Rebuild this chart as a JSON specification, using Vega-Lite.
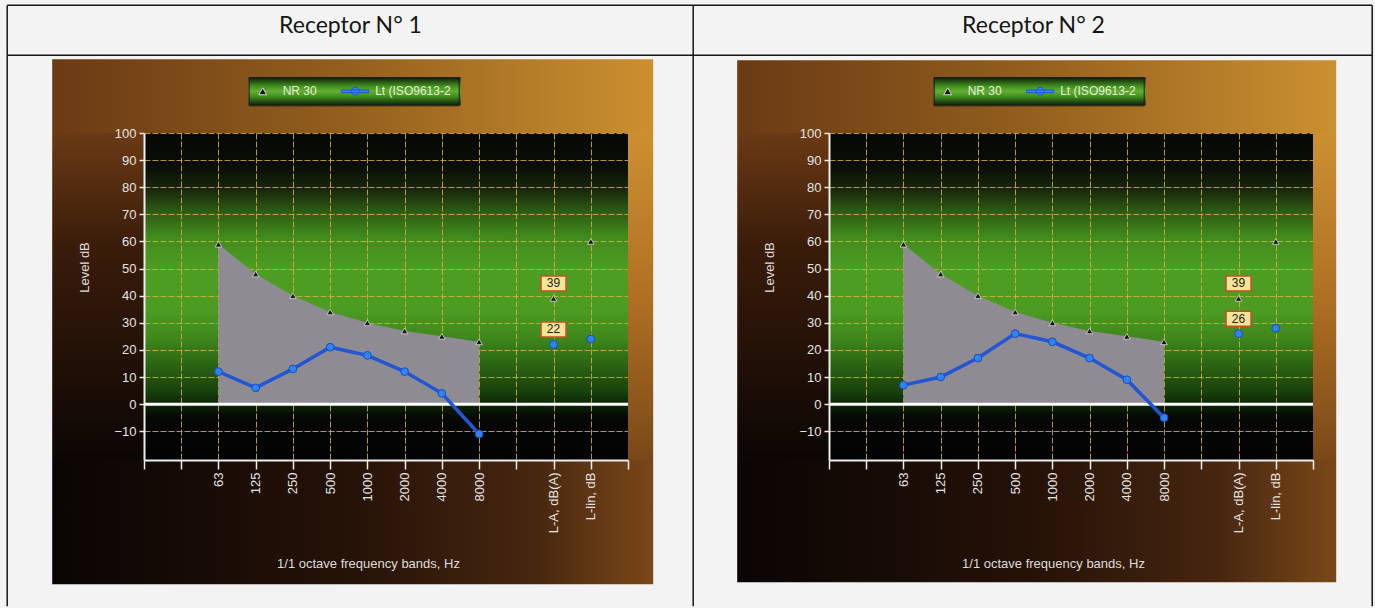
{
"$schema": "https://vega.github.io/schema/vega-lite/v6.json",
"background": "#f3f3f3",
"padding": 0,
"autosize": {"type": "pad"},
"config": {"view": {"stroke": null}, "font": "Liberation Sans"},
"datasets": {
"r1": [
{"band": "63", "nr": 59, "lt": 12},
{"band": "125", "nr": 48, "lt": 6},
{"band": "250", "nr": 40, "lt": 13},
{"band": "500", "nr": 34, "lt": 21},
{"band": "1000", "nr": 30, "lt": 18},
{"band": "2000", "nr": 27, "lt": 12},
{"band": "4000", "nr": 25, "lt": 4},
{"band": "8000", "nr": 23, "lt": -11},
{"band": "L-A, dB(A)", "nr": 39, "lt": 22},
{"band": "L-lin, dB", "nr": 60, "lt": 24}
],
"r2": [
{"band": "63", "nr": 59, "lt": 7},
{"band": "125", "nr": 48, "lt": 10},
{"band": "250", "nr": 40, "lt": 17},
{"band": "500", "nr": 34, "lt": 26},
{"band": "1000", "nr": 30, "lt": 23},
{"band": "2000", "nr": 27, "lt": 17},
{"band": "4000", "nr": 25, "lt": 9},
{"band": "8000", "nr": 23, "lt": -5},
{"band": "L-A, dB(A)", "nr": 39, "lt": 26},
{"band": "L-lin, dB", "nr": 60, "lt": 28}
]
},
"spacing": 201,
"bounds": "flush",
"resolve": {"scale": {"shape": "independent", "fill": "independent", "stroke": "independent"}, "legend": {"shape": "independent", "fill": "independent", "stroke": "independent"}},
"hconcat": [
{
"width": 484, "height": 327,
"view": {"stroke": null, "fill": {"gradient": "linear", "x1": 0, "y1": 0, "x2": 0, "y2": 1, "stops": [{"offset": 0, "color": "#070806"}, {"offset": 0.1, "color": "#0a0e07"}, {"offset": 0.17, "color": "#17260c"}, {"offset": 0.235, "color": "#2d5713"}, {"offset": 0.315, "color": "#408a1c"}, {"offset": 0.42, "color": "#4e9e24"}, {"offset": 0.54, "color": "#4c9c22"}, {"offset": 0.625, "color": "#3f881c"}, {"offset": 0.705, "color": "#2c6614"}, {"offset": 0.79, "color": "#18420c"}, {"offset": 0.83, "color": "#0d2407"}, {"offset": 0.87, "color": "#050804"}, {"offset": 1, "color": "#020202"}]}},
"data": {"name": "r1"},
"transform": [{"calculate": "indexof(['','','63','125','250','500','1000','2000','4000','8000','','L-A, dB(A)','L-lin, dB',''], datum.band)", "as": "pos"}],
"resolve": {"axis": {"x": "independent", "y": "independent"}},
"layer": [
{"data": {"values": [{}]}, "mark": {"type": "rect", "opacity": 0},
 "encoding": {"x": {"datum": -3.8624, "type": "quantitative", "scale": {"domain": [0, 13], "nice": false, "zero": false}, "axis": null}, "x2": {"datum": 33.069},
  "y": {"datum": 148.94, "type": "quantitative", "scale": {"domain": [-20.6, 100], "nice": false, "zero": false}, "axis": null}, "y2": {"datum": -75.3}}},
{"data": {"values": [{}]}, "mark": {"type": "rect", "fill": {"gradient": "linear", "x1": 0, "y1": 0, "x2": 1, "y2": 0, "stops": [{"offset": 0, "color": "#6a3a14"}, {"offset": 0.5, "color": "#94601e"}, {"offset": 1, "color": "#cc9030"}]}},
 "encoding": {"x": {"datum": -2.4657, "type": "quantitative", "scale": {"domain": [0, 13], "nice": false, "zero": false}, "axis": null}, "x2": {"datum": 13.6767},
  "y": {"datum": 100, "type": "quantitative", "scale": {"domain": [-20.6, 100], "nice": false, "zero": false}, "axis": null}, "y2": {"datum": 127.18}}},
{"data": {"values": [{}]}, "mark": {"type": "rect", "fill": {"gradient": "linear", "x1": 0, "y1": 0, "x2": 1, "y2": 0, "stops": [{"offset": 0, "color": "#0a0504"}, {"offset": 0.5, "color": "#261207"}, {"offset": 0.8, "color": "#462610"}, {"offset": 1, "color": "#7a4818"}]}},
 "encoding": {"x": {"datum": -2.4657, "type": "quantitative", "scale": {"domain": [0, 13], "nice": false, "zero": false}, "axis": null}, "x2": {"datum": 13.6767},
  "y": {"datum": -66.45, "type": "quantitative", "scale": {"domain": [-20.6, 100], "nice": false, "zero": false}, "axis": null}, "y2": {"datum": -20.6}}},
{"data": {"values": [{}]}, "mark": {"type": "rect", "fill": {"gradient": "linear", "x1": 0, "y1": 0, "x2": 0, "y2": 1, "stops": [{"offset": 0, "color": "#6a3a14"}, {"offset": 0.35, "color": "#3a1c0a"}, {"offset": 1, "color": "#0c0604"}]}},
 "encoding": {"x": {"datum": -2.4657, "type": "quantitative", "scale": {"domain": [0, 13], "nice": false, "zero": false}, "axis": null}, "x2": {"datum": 0},
  "y": {"datum": -20.6, "type": "quantitative", "scale": {"domain": [-20.6, 100], "nice": false, "zero": false}, "axis": null}, "y2": {"datum": 100}}},
{"data": {"values": [{}]}, "mark": {"type": "rect", "fill": {"gradient": "linear", "x1": 0, "y1": 0, "x2": 0, "y2": 1, "stops": [{"offset": 0, "color": "#cc9030"}, {"offset": 0.5, "color": "#b07024"}, {"offset": 1, "color": "#7a4818"}]}},
 "encoding": {"x": {"datum": 13, "type": "quantitative", "scale": {"domain": [0, 13], "nice": false, "zero": false}, "axis": null}, "x2": {"datum": 13.6767},
  "y": {"datum": -20.6, "type": "quantitative", "scale": {"domain": [-20.6, 100], "nice": false, "zero": false}, "axis": null}, "y2": {"datum": 100}}},
{"data": {"values": [{}]}, "mark": {"type": "rule", "stroke": "#151515", "strokeWidth": 1.5},
 "encoding": {"x": {"datum": -3.6744, "type": "quantitative", "scale": {"domain": [0, 13], "nice": false, "zero": false}, "axis": null},
  "y": {"datum": 147.1, "type": "quantitative", "scale": {"domain": [-20.6, 100], "nice": false, "zero": false}, "axis": null}, "y2": {"datum": -74.56}}},
{"data": {"values": [{}]}, "mark": {"type": "rule", "stroke": "#151515", "strokeWidth": 1.5},
 "encoding": {"x": {"datum": 14.7514, "type": "quantitative", "scale": {"domain": [0, 13], "nice": false, "zero": false}, "axis": null},
  "y": {"datum": 147.1, "type": "quantitative", "scale": {"domain": [-20.6, 100], "nice": false, "zero": false}, "axis": null}, "y2": {"datum": -74.56}}},
{"data": {"values": [{}]}, "mark": {"type": "rule", "stroke": "#151515", "strokeWidth": 1.5},
 "encoding": {"x": {"datum": -3.6744, "type": "quantitative", "scale": {"domain": [0, 13], "nice": false, "zero": false}, "axis": null}, "x2": {"datum": 14.7514},
  "y": {"datum": 147.1, "type": "quantitative", "scale": {"domain": [-20.6, 100], "nice": false, "zero": false}, "axis": null}}},
{"data": {"values": [{}]}, "mark": {"type": "rule", "stroke": "#151515", "strokeWidth": 1.5},
 "encoding": {"x": {"datum": -3.6744, "type": "quantitative", "scale": {"domain": [0, 13], "nice": false, "zero": false}, "axis": null}, "x2": {"datum": 14.7514},
  "y": {"datum": 128.66, "type": "quantitative", "scale": {"domain": [-20.6, 100], "nice": false, "zero": false}, "axis": null}}},
{"transform": [{"filter": "datum.pos <= 9"}], "mark": {"type": "area", "fill": "#8e8b93", "opacity": 1},
 "encoding": {"x": {"field": "pos", "type": "quantitative", "scale": {"domain": [0, 13], "nice": false, "zero": false},
   "axis": {"orient": "bottom", "values": [0,1,2,3,4,5,6,7,8,9,10,11,12,13], "grid": true, "gridColor": "#d6ae44", "gridOpacity": 0.85, "gridWidth": 1, "gridDash": [6, 2], "labels": false, "ticks": false, "domain": false, "title": null, "zindex": 0}},
  "y": {"field": "nr", "type": "quantitative", "scale": {"domain": [-20.6, 100], "nice": false, "zero": false},
   "axis": {"orient": "left", "values": [-10,0,10,20,30,40,50,60,70,80,90,100], "grid": true, "gridColor": "#d6ae44", "gridOpacity": 0.85, "gridWidth": 1, "gridDash": [6, 2], "labels": false, "ticks": false, "domain": false, "title": null, "zindex": 0}},
  "y2": {"datum": 0}}},
{"data": {"values": [{}]}, "mark": {"type": "rule", "stroke": "#ffffff", "strokeWidth": 3},
 "encoding": {"x": {"datum": 0, "type": "quantitative", "scale": {"domain": [0, 13], "nice": false, "zero": false}, "axis": null}, "x2": {"datum": 13},
  "y": {"datum": 0, "type": "quantitative", "scale": {"domain": [-20.6, 100], "nice": false, "zero": false}, "axis": null}}},
{"transform": [{"filter": "datum.pos <= 9"}], "mark": {"type": "line", "stroke": "#2356d4", "strokeWidth": 3.5},
 "encoding": {"x": {"field": "pos", "type": "quantitative", "scale": {"domain": [0, 13], "nice": false, "zero": false}, "axis": null},
  "y": {"field": "lt", "type": "quantitative", "scale": {"domain": [-20.6, 100], "nice": false, "zero": false}, "axis": null}}},
{"mark": {"type": "point", "shape": "triangle-up", "filled": true, "fill": "#161616", "stroke": "#dcdcdc", "strokeWidth": 0.8, "size": 44, "opacity": 1},
 "encoding": {"x": {"field": "pos", "type": "quantitative", "scale": {"domain": [0, 13], "nice": false, "zero": false},
   "axis": {"orient": "bottom", "values": [0,1,2,3,4,5,6,7,8,9,10,11,12,13], "grid": false, "labelExpr": "['','','63','125','250','500','1000','2000','4000','8000','','L-A, dB(A)','L-lin, dB',''][datum.value]", "labelAngle": -90, "labelColor": "#e4e4e4", "labelFont": "Liberation Sans", "labelFontSize": 13, "labelPadding": 3, "labelOverlap": false, "labelFlush": false, "labelBound": false, "tickColor": "#eeeeee", "tickSize": 9, "tickWidth": 1.5, "domainColor": "#eeeeee", "domainWidth": 2, "title": "1/1 octave frequency bands, Hz", "titleFont": "Liberation Sans", "titleFontSize": 13, "titleFontWeight": "normal", "titleColor": "#dddddd", "titleX": 224, "titleY": 103, "titleAlign": "center", "titleBaseline": "middle", "titleAngle": 0, "zindex": 1}},
  "y": {"field": "nr", "type": "quantitative", "scale": {"domain": [-20.6, 100], "nice": false, "zero": false},
   "axis": {"orient": "left", "values": [-10,0,10,20,30,40,50,60,70,80,90,100], "grid": false, "labelColor": "#e4e4e4", "labelFont": "Liberation Sans", "labelFontSize": 13, "labelPadding": 3, "labelFlush": false, "labelOverlap": false, "tickColor": "#eeeeee", "tickSize": 5, "tickWidth": 1.5, "domainColor": "#eeeeee", "domainWidth": 2, "title": "Level dB", "titleFont": "Liberation Sans", "titleFontSize": 13, "titleFontWeight": "normal", "titleColor": "#dddddd", "titleX": -60, "titleY": 134, "titleAngle": 270, "titleAlign": "center", "titleBaseline": "middle", "zindex": 1}}}},
{"mark": {"type": "point", "shape": "circle", "filled": true, "fill": "#2e84f0", "stroke": "#1b4cc0", "strokeWidth": 1, "size": 60, "opacity": 1},
 "encoding": {"x": {"field": "pos", "type": "quantitative", "scale": {"domain": [0, 13], "nice": false, "zero": false},
   "axis": {"orient": "top", "title": "Receptor N° 1", "labels": false, "ticks": false, "domain": false, "grid": false, "titleFont": "Lato", "titleFontSize": 23, "titleFontWeight": "normal", "titleColor": "#161616", "titleX": 206, "titleY": -108, "titleAlign": "center", "titleBaseline": "middle", "titleAngle": 0, "zindex": 1}},
  "y": {"field": "lt", "type": "quantitative", "scale": {"domain": [-20.6, 100], "nice": false, "zero": false}, "axis": null}}},
{"data": {"values": [{}]}, "mark": {"type": "rect", "fill": {"gradient": "linear", "x1": 0, "y1": 0, "x2": 0, "y2": 1, "stops": [{"offset": 0, "color": "#0e1c08"}, {"offset": 0.3, "color": "#3f8a1e"}, {"offset": 0.5, "color": "#62b032"}, {"offset": 0.7, "color": "#3f8a1e"}, {"offset": 1, "color": "#0e1c08"}]}},
 "encoding": {"x": {"datum": 2.812, "type": "quantitative", "scale": {"domain": [0, 13], "nice": false, "zero": false}, "axis": null}, "x2": {"datum": 8.506},
  "y": {"datum": 120.54, "type": "quantitative", "scale": {"domain": [-20.6, 100], "nice": false, "zero": false}, "axis": null}, "y2": {"datum": 110.22}}},
{"transform": [{"fold": ["nr", "lt"]}, {"filter": "datum.band == 'none'"}], "mark": {"type": "point", "filled": true, "opacity": 1},
 "encoding": {"x": {"field": "pos", "type": "quantitative", "scale": {"domain": [0, 13], "nice": false, "zero": false}, "axis": null},
  "y": {"field": "value", "type": "quantitative", "scale": {"domain": [-20.6, 100], "nice": false, "zero": false}, "axis": null},
  "shape": {"field": "key", "type": "nominal", "scale": {"domain": ["nr", "lt"], "range": ["triangle-up", "M-3.4,-0.35H3.4V0.35H-3.4Z M1,0A1,1 0 1 1 -1,0A1,1 0 1 1 1,0Z"]},
   "legend": {"orient": "none", "legendX": 104.7, "legendY": -55.7, "direction": "horizontal", "title": null, "padding": 8, "fillColor": null, "strokeColor": "#1a1a1a", "labelColor": "#e6eedc", "labelFont": "Liberation Sans", "labelFontSize": 12, "labelOffset": 14, "columnPadding": 21.5, "symbolSize": 64, "symbolStrokeWidth": 1, "labelExpr": "datum.value == 'nr' ? 'NR 30' : 'Lt (ISO9613-2'"}},
  "fill": {"field": "key", "type": "nominal", "scale": {"domain": ["nr", "lt"], "range": ["#151515", "#2e84f0"]},
   "legend": {"orient": "none", "legendX": 104.7, "legendY": -55.7, "direction": "horizontal", "title": null, "padding": 8, "fillColor": null, "strokeColor": "#1a1a1a", "labelColor": "#e6eedc", "labelFont": "Liberation Sans", "labelFontSize": 12, "labelOffset": 14, "columnPadding": 21.5, "symbolSize": 64, "symbolStrokeWidth": 1, "labelExpr": "datum.value == 'nr' ? 'NR 30' : 'Lt (ISO9613-2'"}},
  "stroke": {"field": "key", "type": "nominal", "scale": {"domain": ["nr", "lt"], "range": ["#d8d8d8", "#2356d4"]},
   "legend": {"orient": "none", "legendX": 104.7, "legendY": -55.7, "direction": "horizontal", "title": null, "padding": 8, "fillColor": null, "strokeColor": "#1a1a1a", "labelColor": "#e6eedc", "labelFont": "Liberation Sans", "labelFontSize": 12, "labelOffset": 14, "columnPadding": 21.5, "symbolSize": 64, "symbolStrokeWidth": 1, "labelExpr": "datum.value == 'nr' ? 'NR 30' : 'Lt (ISO9613-2'"}}}},
{"transform": [{"fold": ["nr", "lt"]}, {"filter": "datum.band == 'L-A, dB(A)'"}], "mark": {"type": "point", "shape": "M-1,-0.6H1V0.6H-1Z", "filled": true, "fill": "#f3e49a", "stroke": "#c8501c", "strokeWidth": 1.5, "size": 625, "opacity": 1, "yOffset": -15},
 "encoding": {"x": {"field": "pos", "type": "quantitative", "scale": {"domain": [0, 13], "nice": false, "zero": false}, "axis": null},
  "y": {"field": "value", "type": "quantitative", "scale": {"domain": [-20.6, 100], "nice": false, "zero": false}, "axis": null}}},
{"transform": [{"fold": ["nr", "lt"]}, {"filter": "datum.band == 'L-A, dB(A)'"}], "mark": {"type": "text", "font": "Liberation Sans", "fontSize": 12, "fill": "#2b1c0a", "yOffset": -15, "align": "center", "baseline": "middle"},
 "encoding": {"x": {"field": "pos", "type": "quantitative", "scale": {"domain": [0, 13], "nice": false, "zero": false}, "axis": null},
  "y": {"field": "value", "type": "quantitative", "scale": {"domain": [-20.6, 100], "nice": false, "zero": false}, "axis": null},
  "text": {"field": "value", "type": "quantitative"}}}
]
},
{
"width": 484, "height": 327,
"view": {"stroke": null, "fill": {"gradient": "linear", "x1": 0, "y1": 0, "x2": 0, "y2": 1, "stops": [{"offset": 0, "color": "#070806"}, {"offset": 0.1, "color": "#0a0e07"}, {"offset": 0.17, "color": "#17260c"}, {"offset": 0.235, "color": "#2d5713"}, {"offset": 0.315, "color": "#408a1c"}, {"offset": 0.42, "color": "#4e9e24"}, {"offset": 0.54, "color": "#4c9c22"}, {"offset": 0.625, "color": "#3f881c"}, {"offset": 0.705, "color": "#2c6614"}, {"offset": 0.79, "color": "#18420c"}, {"offset": 0.83, "color": "#0d2407"}, {"offset": 0.87, "color": "#050804"}, {"offset": 1, "color": "#020202"}]}},
"data": {"name": "r2"},
"transform": [{"calculate": "indexof(['','','63','125','250','500','1000','2000','4000','8000','','L-A, dB(A)','L-lin, dB',''], datum.band)", "as": "pos"}],
"resolve": {"axis": {"x": "independent", "y": "independent"}},
"layer": [
{"data": {"values": [{}]}, "mark": {"type": "rect", "fill": {"gradient": "linear", "x1": 0, "y1": 0, "x2": 1, "y2": 0, "stops": [{"offset": 0, "color": "#6a3a14"}, {"offset": 0.5, "color": "#94601e"}, {"offset": 1, "color": "#cc9030"}]}},
 "encoding": {"x": {"datum": -2.4657, "type": "quantitative", "scale": {"domain": [0, 13], "nice": false, "zero": false}, "axis": null}, "x2": {"datum": 13.6231},
  "y": {"datum": 100, "type": "quantitative", "scale": {"domain": [-20.6, 100], "nice": false, "zero": false}, "axis": null}, "y2": {"datum": 126.81}}},
{"data": {"values": [{}]}, "mark": {"type": "rect", "fill": {"gradient": "linear", "x1": 0, "y1": 0, "x2": 1, "y2": 0, "stops": [{"offset": 0, "color": "#0a0504"}, {"offset": 0.5, "color": "#261207"}, {"offset": 0.8, "color": "#462610"}, {"offset": 1, "color": "#7a4818"}]}},
 "encoding": {"x": {"datum": -2.4657, "type": "quantitative", "scale": {"domain": [0, 13], "nice": false, "zero": false}, "axis": null}, "x2": {"datum": 13.6231},
  "y": {"datum": -65.71, "type": "quantitative", "scale": {"domain": [-20.6, 100], "nice": false, "zero": false}, "axis": null}, "y2": {"datum": -20.6}}},
{"data": {"values": [{}]}, "mark": {"type": "rect", "fill": {"gradient": "linear", "x1": 0, "y1": 0, "x2": 0, "y2": 1, "stops": [{"offset": 0, "color": "#6a3a14"}, {"offset": 0.35, "color": "#3a1c0a"}, {"offset": 1, "color": "#0c0604"}]}},
 "encoding": {"x": {"datum": -2.4657, "type": "quantitative", "scale": {"domain": [0, 13], "nice": false, "zero": false}, "axis": null}, "x2": {"datum": 0},
  "y": {"datum": -20.6, "type": "quantitative", "scale": {"domain": [-20.6, 100], "nice": false, "zero": false}, "axis": null}, "y2": {"datum": 100}}},
{"data": {"values": [{}]}, "mark": {"type": "rect", "fill": {"gradient": "linear", "x1": 0, "y1": 0, "x2": 0, "y2": 1, "stops": [{"offset": 0, "color": "#cc9030"}, {"offset": 0.5, "color": "#b07024"}, {"offset": 1, "color": "#7a4818"}]}},
 "encoding": {"x": {"datum": 13, "type": "quantitative", "scale": {"domain": [0, 13], "nice": false, "zero": false}, "axis": null}, "x2": {"datum": 13.6231},
  "y": {"datum": -20.6, "type": "quantitative", "scale": {"domain": [-20.6, 100], "nice": false, "zero": false}, "axis": null}, "y2": {"datum": 100}}},
{"data": {"values": [{}]}, "mark": {"type": "rule", "stroke": "#151515", "strokeWidth": 1.5},
 "encoding": {"x": {"datum": 14.59, "type": "quantitative", "scale": {"domain": [0, 13], "nice": false, "zero": false}, "axis": null},
  "y": {"datum": 147.1, "type": "quantitative", "scale": {"domain": [-20.6, 100], "nice": false, "zero": false}, "axis": null}, "y2": {"datum": -74.56}}},
{"data": {"values": [{}]}, "mark": {"type": "rule", "stroke": "#151515", "strokeWidth": 1.5},
 "encoding": {"x": {"datum": -3.6475, "type": "quantitative", "scale": {"domain": [0, 13], "nice": false, "zero": false}, "axis": null}, "x2": {"datum": 14.59},
  "y": {"datum": 147.1, "type": "quantitative", "scale": {"domain": [-20.6, 100], "nice": false, "zero": false}, "axis": null}}},
{"data": {"values": [{}]}, "mark": {"type": "rule", "stroke": "#151515", "strokeWidth": 1.5},
 "encoding": {"x": {"datum": -3.6475, "type": "quantitative", "scale": {"domain": [0, 13], "nice": false, "zero": false}, "axis": null}, "x2": {"datum": 14.59},
  "y": {"datum": 128.66, "type": "quantitative", "scale": {"domain": [-20.6, 100], "nice": false, "zero": false}, "axis": null}}},
{"transform": [{"filter": "datum.pos <= 9"}], "mark": {"type": "area", "fill": "#8e8b93", "opacity": 1},
 "encoding": {"x": {"field": "pos", "type": "quantitative", "scale": {"domain": [0, 13], "nice": false, "zero": false},
   "axis": {"orient": "bottom", "values": [0,1,2,3,4,5,6,7,8,9,10,11,12,13], "grid": true, "gridColor": "#d6ae44", "gridOpacity": 0.85, "gridWidth": 1, "gridDash": [6, 2], "labels": false, "ticks": false, "domain": false, "title": null, "zindex": 0}},
  "y": {"field": "nr", "type": "quantitative", "scale": {"domain": [-20.6, 100], "nice": false, "zero": false},
   "axis": {"orient": "left", "values": [-10,0,10,20,30,40,50,60,70,80,90,100], "grid": true, "gridColor": "#d6ae44", "gridOpacity": 0.85, "gridWidth": 1, "gridDash": [6, 2], "labels": false, "ticks": false, "domain": false, "title": null, "zindex": 0}},
  "y2": {"datum": 0}}},
{"data": {"values": [{}]}, "mark": {"type": "rule", "stroke": "#ffffff", "strokeWidth": 3},
 "encoding": {"x": {"datum": 0, "type": "quantitative", "scale": {"domain": [0, 13], "nice": false, "zero": false}, "axis": null}, "x2": {"datum": 13},
  "y": {"datum": 0, "type": "quantitative", "scale": {"domain": [-20.6, 100], "nice": false, "zero": false}, "axis": null}}},
{"transform": [{"filter": "datum.pos <= 9"}], "mark": {"type": "line", "stroke": "#2356d4", "strokeWidth": 3.5},
 "encoding": {"x": {"field": "pos", "type": "quantitative", "scale": {"domain": [0, 13], "nice": false, "zero": false}, "axis": null},
  "y": {"field": "lt", "type": "quantitative", "scale": {"domain": [-20.6, 100], "nice": false, "zero": false}, "axis": null}}},
{"mark": {"type": "point", "shape": "triangle-up", "filled": true, "fill": "#161616", "stroke": "#dcdcdc", "strokeWidth": 0.8, "size": 44, "opacity": 1},
 "encoding": {"x": {"field": "pos", "type": "quantitative", "scale": {"domain": [0, 13], "nice": false, "zero": false},
   "axis": {"orient": "bottom", "values": [0,1,2,3,4,5,6,7,8,9,10,11,12,13], "grid": false, "labelExpr": "['','','63','125','250','500','1000','2000','4000','8000','','L-A, dB(A)','L-lin, dB',''][datum.value]", "labelAngle": -90, "labelColor": "#e4e4e4", "labelFont": "Liberation Sans", "labelFontSize": 13, "labelPadding": 3, "labelOverlap": false, "labelFlush": false, "labelBound": false, "tickColor": "#eeeeee", "tickSize": 9, "tickWidth": 1.5, "domainColor": "#eeeeee", "domainWidth": 2, "title": "1/1 octave frequency bands, Hz", "titleFont": "Liberation Sans", "titleFontSize": 13, "titleFontWeight": "normal", "titleColor": "#dddddd", "titleX": 224, "titleY": 103, "titleAlign": "center", "titleBaseline": "middle", "titleAngle": 0, "zindex": 1}},
  "y": {"field": "nr", "type": "quantitative", "scale": {"domain": [-20.6, 100], "nice": false, "zero": false},
   "axis": {"orient": "left", "values": [-10,0,10,20,30,40,50,60,70,80,90,100], "grid": false, "labelColor": "#e4e4e4", "labelFont": "Liberation Sans", "labelFontSize": 13, "labelPadding": 3, "labelFlush": false, "labelOverlap": false, "tickColor": "#eeeeee", "tickSize": 5, "tickWidth": 1.5, "domainColor": "#eeeeee", "domainWidth": 2, "title": "Level dB", "titleFont": "Liberation Sans", "titleFontSize": 13, "titleFontWeight": "normal", "titleColor": "#dddddd", "titleX": -60, "titleY": 134, "titleAngle": 270, "titleAlign": "center", "titleBaseline": "middle", "zindex": 1}}}},
{"mark": {"type": "point", "shape": "circle", "filled": true, "fill": "#2e84f0", "stroke": "#1b4cc0", "strokeWidth": 1, "size": 60, "opacity": 1},
 "encoding": {"x": {"field": "pos", "type": "quantitative", "scale": {"domain": [0, 13], "nice": false, "zero": false},
   "axis": {"orient": "top", "title": "Receptor N° 2", "labels": false, "ticks": false, "domain": false, "grid": false, "titleFont": "Lato", "titleFontSize": 23, "titleFontWeight": "normal", "titleColor": "#161616", "titleX": 204, "titleY": -108, "titleAlign": "center", "titleBaseline": "middle", "titleAngle": 0, "zindex": 1}},
  "y": {"field": "lt", "type": "quantitative", "scale": {"domain": [-20.6, 100], "nice": false, "zero": false}, "axis": null}}},
{"data": {"values": [{}]}, "mark": {"type": "rect", "fill": {"gradient": "linear", "x1": 0, "y1": 0, "x2": 0, "y2": 1, "stops": [{"offset": 0, "color": "#0e1c08"}, {"offset": 0.3, "color": "#3f8a1e"}, {"offset": 0.5, "color": "#62b032"}, {"offset": 0.7, "color": "#3f8a1e"}, {"offset": 1, "color": "#0e1c08"}]}},
 "encoding": {"x": {"datum": 2.812, "type": "quantitative", "scale": {"domain": [0, 13], "nice": false, "zero": false}, "axis": null}, "x2": {"datum": 8.506},
  "y": {"datum": 120.54, "type": "quantitative", "scale": {"domain": [-20.6, 100], "nice": false, "zero": false}, "axis": null}, "y2": {"datum": 110.22}}},
{"transform": [{"fold": ["nr", "lt"]}, {"filter": "datum.band == 'none'"}], "mark": {"type": "point", "filled": true, "opacity": 1},
 "encoding": {"x": {"field": "pos", "type": "quantitative", "scale": {"domain": [0, 13], "nice": false, "zero": false}, "axis": null},
  "y": {"field": "value", "type": "quantitative", "scale": {"domain": [-20.6, 100], "nice": false, "zero": false}, "axis": null},
  "shape": {"field": "key", "type": "nominal", "scale": {"domain": ["nr", "lt"], "range": ["triangle-up", "M-3.4,-0.35H3.4V0.35H-3.4Z M1,0A1,1 0 1 1 -1,0A1,1 0 1 1 1,0Z"]},
   "legend": {"orient": "none", "legendX": 104.7, "legendY": -55.7, "direction": "horizontal", "title": null, "padding": 8, "fillColor": null, "strokeColor": "#1a1a1a", "labelColor": "#e6eedc", "labelFont": "Liberation Sans", "labelFontSize": 12, "labelOffset": 14, "columnPadding": 21.5, "symbolSize": 64, "symbolStrokeWidth": 1, "labelExpr": "datum.value == 'nr' ? 'NR 30' : 'Lt (ISO9613-2'"}},
  "fill": {"field": "key", "type": "nominal", "scale": {"domain": ["nr", "lt"], "range": ["#151515", "#2e84f0"]},
   "legend": {"orient": "none", "legendX": 104.7, "legendY": -55.7, "direction": "horizontal", "title": null, "padding": 8, "fillColor": null, "strokeColor": "#1a1a1a", "labelColor": "#e6eedc", "labelFont": "Liberation Sans", "labelFontSize": 12, "labelOffset": 14, "columnPadding": 21.5, "symbolSize": 64, "symbolStrokeWidth": 1, "labelExpr": "datum.value == 'nr' ? 'NR 30' : 'Lt (ISO9613-2'"}},
  "stroke": {"field": "key", "type": "nominal", "scale": {"domain": ["nr", "lt"], "range": ["#d8d8d8", "#2356d4"]},
   "legend": {"orient": "none", "legendX": 104.7, "legendY": -55.7, "direction": "horizontal", "title": null, "padding": 8, "fillColor": null, "strokeColor": "#1a1a1a", "labelColor": "#e6eedc", "labelFont": "Liberation Sans", "labelFontSize": 12, "labelOffset": 14, "columnPadding": 21.5, "symbolSize": 64, "symbolStrokeWidth": 1, "labelExpr": "datum.value == 'nr' ? 'NR 30' : 'Lt (ISO9613-2'"}}}},
{"transform": [{"fold": ["nr", "lt"]}, {"filter": "datum.band == 'L-A, dB(A)'"}], "mark": {"type": "point", "shape": "M-1,-0.6H1V0.6H-1Z", "filled": true, "fill": "#f3e49a", "stroke": "#c8501c", "strokeWidth": 1.5, "size": 625, "opacity": 1, "yOffset": -15},
 "encoding": {"x": {"field": "pos", "type": "quantitative", "scale": {"domain": [0, 13], "nice": false, "zero": false}, "axis": null},
  "y": {"field": "value", "type": "quantitative", "scale": {"domain": [-20.6, 100], "nice": false, "zero": false}, "axis": null}}},
{"transform": [{"fold": ["nr", "lt"]}, {"filter": "datum.band == 'L-A, dB(A)'"}], "mark": {"type": "text", "font": "Liberation Sans", "fontSize": 12, "fill": "#2b1c0a", "yOffset": -15, "align": "center", "baseline": "middle"},
 "encoding": {"x": {"field": "pos", "type": "quantitative", "scale": {"domain": [0, 13], "nice": false, "zero": false}, "axis": null},
  "y": {"field": "value", "type": "quantitative", "scale": {"domain": [-20.6, 100], "nice": false, "zero": false}, "axis": null},
  "text": {"field": "value", "type": "quantitative"}}}
]
}
]
}
